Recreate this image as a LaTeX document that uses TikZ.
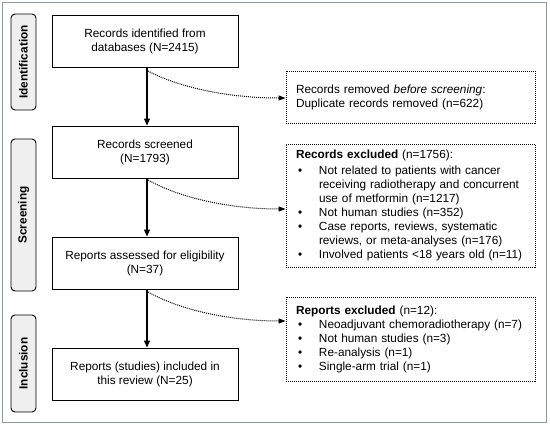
\documentclass[tikz,border=0pt]{standalone}
\usepackage{fontspec}
\setmainfont{Liberation Sans}
\usetikzlibrary{arrows.meta}
\definecolor{sidefill}{HTML}{EFEFEF}
\definecolor{framecol}{HTML}{8E98A6}
\begin{document}
\begin{tikzpicture}[x=1pt,y=-1pt,
  txt/.style={font=\fontsize{11.8}{14}\selectfont},
  mainbox/.style={txt, draw, line width=0.9pt, minimum width=186pt, minimum height=52pt, align=center, inner sep=0pt},
  sidebox/.style={draw, line width=0.9pt, fill=sidefill, rounded corners=4pt, rotate=90, minimum height=25pt, inner sep=0pt, font=\bfseries\fontsize{11.8}{14}\selectfont},
  exbox/.style={txt, draw, dash pattern=on 1pt off 1pt, line width=0.9pt, minimum width=249pt, text width=229pt, inner xsep=10pt, inner ysep=0pt, align=left},
  flow/.style={line width=1.1pt, -{Triangle[length=7pt,width=6pt]}},
  sideflow/.style={dash pattern=on 1pt off 1pt, line width=1pt, -{Triangle[length=7pt,width=5pt]}}
]
\useasboundingbox (0,0) rectangle (550,426);
\draw[framecol, line width=1.5pt] (2.5,2.5) rectangle (546.5,422.5);

% side labels
\node[sidebox, minimum width=96pt] (sid) at (23.5,62) {Identification};
\node[sidebox, minimum width=152pt] (sscr) at (23.5,215) {Screening};
\node[sidebox, minimum width=97pt] (sinc) at (23.5,363.5) {Inclusion};

% main boxes
\node[mainbox] (b1) at (145,41) {Records identified from\\databases (N=2415)};
\node[mainbox] (b2) at (145,152) {Records screened\\(N=1793)};
\node[mainbox] (b3) at (145,263) {Reports assessed for eligibility\\(N=37)};
\node[mainbox] (b4) at (145,374) {Reports (studies) included in\\this review (N=25)};

% right boxes
\node[exbox, minimum height=52pt] (r1) at (410.5,97) {Records removed \textit{before screening}:\\Duplicate records removed (n=622)};
\node[exbox, minimum height=123pt] (r2) at (410.5,205.5) {\textbf{Records excluded} (n=1756):\\[2pt]
\makebox[23pt][l]{\hspace{2pt}\textbullet}Not related to patients with cancer\\
\hspace*{23pt}receiving radiotherapy and concurrent\\
\hspace*{23pt}use of metformin (n=1217)\\
\makebox[23pt][l]{\hspace{2pt}\textbullet}Not human studies (n=352)\\
\makebox[23pt][l]{\hspace{2pt}\textbullet}Case reports, reviews, systematic\\
\hspace*{23pt}reviews, or meta-analyses (n=176)\\
\makebox[23pt][l]{\hspace{2pt}\textbullet}Involved patients <18 years old (n=11)};
\node[exbox, minimum height=84pt] (r3) at (410.5,339) {\textbf{Reports excluded} (n=12):\\
\makebox[23pt][l]{\hspace{2pt}\textbullet}Neoadjuvant chemoradiotherapy (n=7)\\
\makebox[23pt][l]{\hspace{2pt}\textbullet}Not human studies (n=3)\\
\makebox[23pt][l]{\hspace{2pt}\textbullet}Re-analysis (n=1)\\
\makebox[23pt][l]{\hspace{2pt}\textbullet}Single-arm trial (n=1)};

% vertical arrows
\draw[flow] (b1.south -| 147,0) -- (b2.north -| 147,0);
\draw[flow] (b2.south -| 147,0) -- (b3.north -| 147,0);
\draw[flow] (b3.south -| 147,0) -- (b4.north -| 147,0);

% curved side arrows
\coordinate (c1) at (148,71);
\coordinate (c2) at (148,180);
\coordinate (c3) at (148,292);
\coordinate (e1) at (r1.west |- 0,98);
\coordinate (e2) at (r2.west |- 0,209);
\coordinate (e3) at (r3.west |- 0,321);
\draw[sideflow] (c1) .. controls (180,88) and (230,98) .. (e1);
\draw[sideflow] (c2) .. controls (180,198) and (230,209) .. (e2);
\draw[sideflow] (c3) .. controls (180,310) and (230,321) .. (e3);
\end{tikzpicture}
\end{document}
